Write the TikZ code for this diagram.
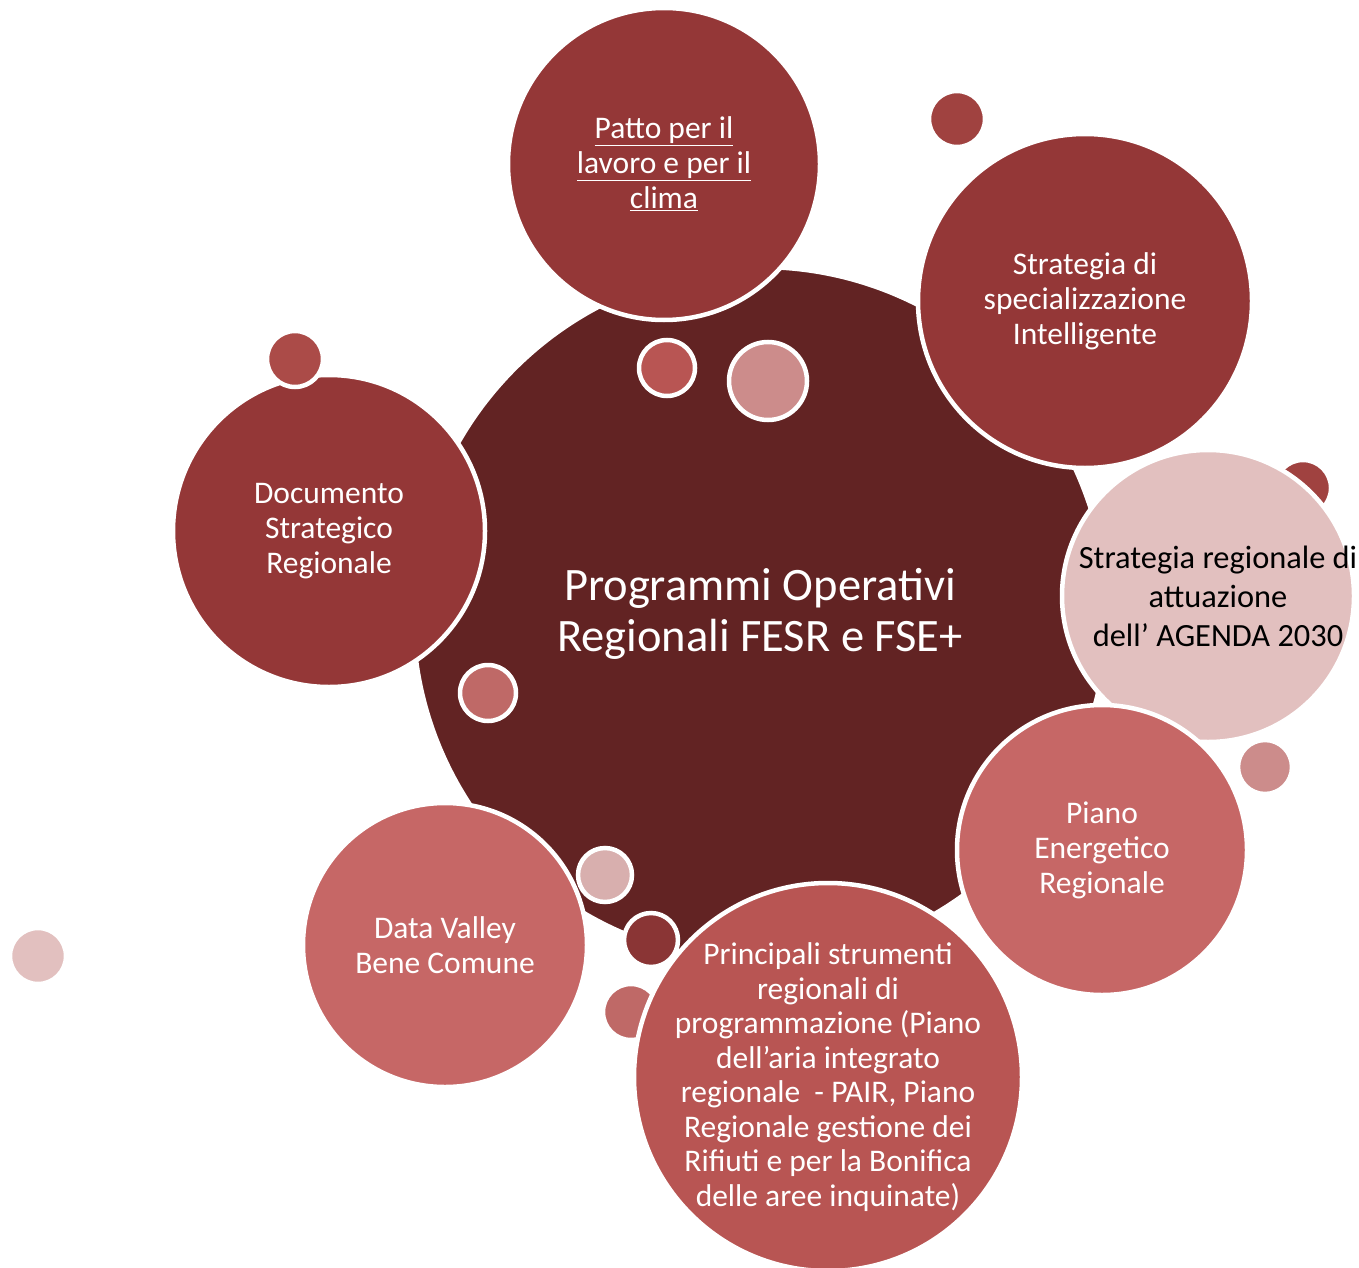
\documentclass[tikz,border=0pt]{standalone}
\usepackage{xcolor}
\usepackage{fontspec}
\setmainfont{Carlito}
\usepackage{tikz}
\usetikzlibrary{positioning}

\definecolor{coreRed}{HTML}{622323}
\definecolor{deepRed}{HTML}{943737}
\definecolor{midRed}{HTML}{B85553}
\definecolor{softRed}{HTML}{C66766}
\definecolor{dotRed}{HTML}{A04240}
\definecolor{dotBright}{HTML}{AB4B48}
\definecolor{dotRose}{HTML}{CC8C8B}
\definecolor{dotPink}{HTML}{D8AFAE}
\definecolor{dotBrick}{HTML}{BF6967}
\definecolor{dotDark}{HTML}{8A3535}
\definecolor{palePink}{HTML}{E2C0BF}

\begin{document}
\begin{tikzpicture}[x=1pt, y=-1pt,
    bubble/.style={circle, draw=white, line width=4.5pt, inner sep=0pt, align=center, text=white,
        font=\fontsize{31.5}{35}\selectfont},
    dot/.style={circle, draw=white, line width=4.5pt, inner sep=0pt}]
    \useasboundingbox (0,0) rectangle (1359,1268);

    \node[bubble, fill=coreRed, minimum size=694, font=\fontsize{46.5}{51}\selectfont] (core) at (760,614)
        {Programmi Operativi\\Regionali FESR e FSE+};

    \node[dot, fill=dotRed, minimum size=56] (dotA) at (1303,488) {};
    \node[dot, fill=dotBrick, minimum size=56] (dotB) at (631,1012) {};

    \node[bubble, fill=deepRed, minimum size=312] (dsr) at (329,531) {Documento\\Strategico\\Regionale};
    \node[bubble, fill=softRed, minimum size=284] (dvbc) at (445,945) {Data Valley\\Bene Comune};
    \node[bubble, fill=deepRed, minimum size=312] (patto) at (664,164)
        {\underline{Patto per il}\\\underline{lavoro e per il}\\\underline{clima}};
    \node[bubble, fill=deepRed, minimum size=334] (s3) at (1085,301)
        {Strategia di\\specializzazione\\Intelligente};
    \node[bubble, fill=palePink, minimum size=292] (agenda) at (1208,596) {};
    \node[text=black, align=center, font=\fontsize{32.4}{39}\selectfont] (agendaTxt) at (1218,596)
        {Strategia regionale di\\attuazione\\dell’ AGENDA 2030};
    \node[bubble, fill=softRed, minimum size=290] (per) at (1102,850) {Piano\\Energetico\\Regionale};
    \node[bubble, fill=midRed, minimum size=388, inner sep=-25pt, font=\fontsize{31.5}{34.5}\selectfont] (strum) at (828,1077)
        {Principali strumenti\\regionali di\\programmazione (Piano\\dell’aria integrato\\regionale\ \ - PAIR, Piano\\Regionale gestione dei\\Rifiuti e per la Bonifica\\delle aree inquinate)};

    \node[dot, fill=dotRed, minimum size=56] (dotC) at (957,119) {};
    \node[dot, fill=dotBright, minimum size=56] (dotD) at (295,359) {};
    \node[dot, fill=midRed, minimum size=56] (dotE) at (667,368) {};
    \node[dot, fill=dotRose, minimum size=78] (dotF) at (768,381) {};
    \node[dot, fill=dotBrick, minimum size=56] (dotG) at (488,693) {};
    \node[dot, fill=dotPink, minimum size=54] (dotH) at (605,875) {};
    \node[dot, fill=dotDark, minimum size=54] (dotI) at (651,940) {};
    \node[dot, fill=dotRose, minimum size=54] (dotJ) at (1265,767) {};
    \node[dot, fill=palePink, minimum size=56] (dotK) at (38,956) {};
\end{tikzpicture}
\end{document}
